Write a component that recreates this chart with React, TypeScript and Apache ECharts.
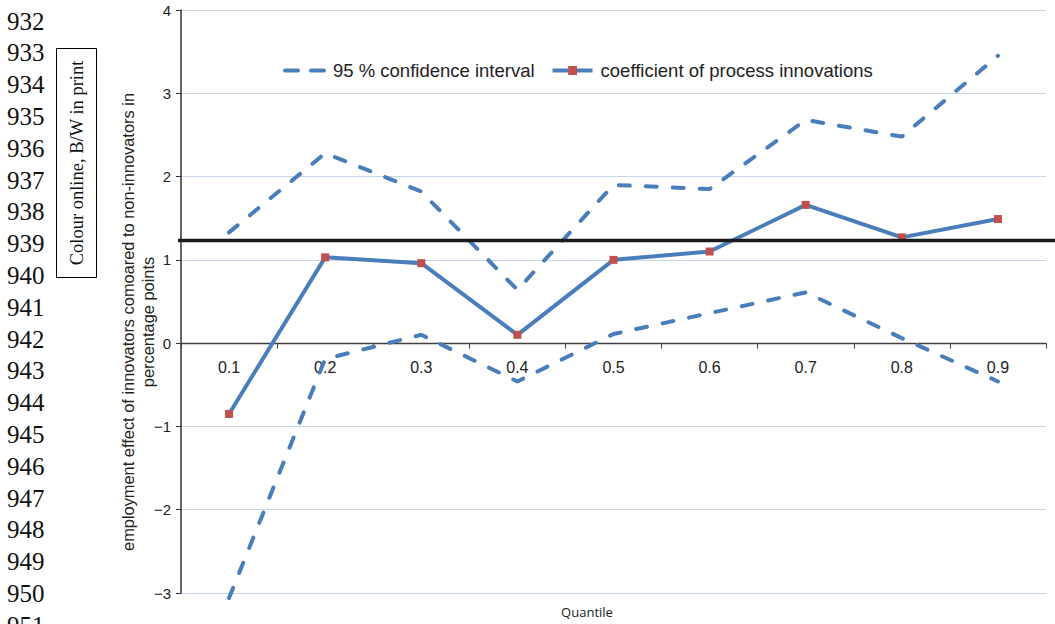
import React, { useEffect, useRef } from "react";
import * as echarts from "echarts";

// ---- data ----
const quantiles = ["0.1", "0.2", "0.3", "0.4", "0.5", "0.6", "0.7", "0.8", "0.9"];
const coefficient = [-0.85, 1.03, 0.96, 0.1, 1.0, 1.1, 1.66, 1.27, 1.49];
const upperCI = [1.33, 2.28, 1.82, 0.64, 1.9, 1.85, 2.68, 2.48, 3.45];
const lowerCI = [-3.06, -0.19, 0.1, -0.46, 0.11, 0.36, 0.61, 0.06, -0.46];
const referenceLevel = 1.228;
const yMin = -3;
const yMax = 4;
const yStep = 1;
const lineNumbers = [
  "932", "933", "934", "935", "936", "937", "938", "939", "940", "941",
  "942", "943", "944", "945", "946", "947", "948", "949", "950", "951",
];
const ciName = "95 % confidence interval";
const coefName = "coefficient of process innovations";
const yTitle = "employment effect of innovators comoared to non-innovators in\npercentage points";
const xTitle = "Quantile";
const sideNote = "Colour online, B/W in print";

const BLUE = "#4a7ebb";
const RED = "#c0504d";
const SANS = '"Liberation Sans", Arial, sans-serif';
const SERIF = '"Liberation Serif", "Times New Roman", serif';

export default function App() {
  const ref = useRef<HTMLDivElement>(null);

  useEffect(() => {
    if (!ref.current) return;
    const chart = echarts.init(ref.current, undefined, { renderer: "svg" });

    const baseGraphic: any[] = [
      ...lineNumbers.map((n, i) => ({
        type: "text",
        x: 7,
        y: 21 + i * 31.8,
        style: {
          text: n,
          fontFamily: SERIF,
          fontSize: 25,
          fill: "#111",
          align: "left",
          verticalAlign: "middle",
        },
      })),
      {
        type: "rect",
        shape: { x: 56.5, y: 48.5, width: 40, height: 229 },
        style: { fill: "none", stroke: "#000", lineWidth: 1 },
      },
      {
        type: "text",
        x: 77,
        y: 163,
        rotation: Math.PI / 2,
        style: {
          text: sideNote,
          fontFamily: SERIF,
          fontSize: 18.5,
          fill: "#111",
          align: "center",
          verticalAlign: "middle",
        },
      },
      {
        type: "text",
        x: 138,
        y: 322,
        rotation: Math.PI / 2,
        style: {
          text: yTitle,
          fontFamily: SANS,
          fontSize: 16.4,
          lineHeight: 20,
          fill: "#222",
          align: "center",
          verticalAlign: "middle",
        },
      },
      {
        type: "text",
        x: 587,
        y: 612,
        style: {
          text: xTitle,
          fontFamily: '"Open Sans", sans-serif',
          fontSize: 13,
          fill: "#222",
          align: "center",
          verticalAlign: "middle",
        },
      },
    ];

    const dashStyle = {
      color: BLUE,
      width: 4,
      type: [11, 16],
      cap: "round",
    };

    const xAxisBase = {
      type: "category",
      data: quantiles,
      boundaryGap: true,
      position: "bottom",
      axisLine: { onZero: false, lineStyle: { color: "#404040", width: 1.3 } },
      axisTick: { show: true, length: 5, lineStyle: { color: "#404040" } },
      axisLabel: { color: "#222", fontSize: 16, fontFamily: SANS, margin: 16 },
      splitLine: { show: false },
    };

    chart.setOption({
      animation: false,
      backgroundColor: "#fff",
      grid: { left: 181, right: 9, top: 10, bottom: 31, containLabel: false },
      legend: {
        left: 278,
        top: 56,
        itemWidth: 40,
        itemHeight: 11,
        itemGap: 16,
        textStyle: {
          fontFamily: SANS,
          fontSize: 18.5,
          color: "#222",
          padding: [0, 0, 0, 3],
        },
        data: [
          {
            name: ciName,
            itemStyle: { opacity: 0 },
            lineStyle: { color: BLUE, width: 4, type: [13, 13], cap: "round" },
          },
          {
            name: coefName,
            itemStyle: { color: RED },
            lineStyle: { color: BLUE, width: 4 },
          },
        ],
      },
      xAxis: xAxisBase,
      yAxis: {
        type: "value",
        min: yMin,
        max: yMax,
        interval: yStep,
        axisLine: { show: true, onZero: false, lineStyle: { color: "#333", width: 1.5 } },
        axisTick: { show: true, length: 5, lineStyle: { color: "#333" } },
        axisLabel: {
          color: "#222",
          fontSize: 15,
          fontFamily: SANS,
          margin: 10,
          formatter: (v: number) => (v < 0 ? "\u2212" + Math.abs(v) : String(v)),
        },
        splitLine: { show: true, lineStyle: { color: "#c8d6ec", width: 1.2 } },
      },
      series: [
        {
          name: ciName,
          type: "line",
          data: upperCI,
          showSymbol: false,
          symbol: "none",
          lineStyle: dashStyle,
          itemStyle: { color: BLUE },
          clip: false,
          z: 2,
        },
        {
          name: ciName,
          type: "line",
          data: lowerCI,
          showSymbol: false,
          symbol: "none",
          lineStyle: dashStyle,
          itemStyle: { color: BLUE },
          clip: false,
          z: 2,
        },
        {
          name: coefName,
          type: "line",
          data: coefficient,
          symbol: "rect",
          symbolSize: 8,
          lineStyle: { color: BLUE, width: 4 },
          itemStyle: { color: RED },
          clip: false,
          z: 3,
        },
      ],
      graphic: baseGraphic,
    });

    const yRef = chart.convertToPixel({ yAxisIndex: 0 }, referenceLevel) as number;
    const yZero = chart.convertToPixel({ yAxisIndex: 0 }, 0) as number;
    const yBottom = chart.convertToPixel({ yAxisIndex: 0 }, yMin) as number;
    chart.setOption({
      xAxis: { ...xAxisBase, offset: yZero - yBottom },
      graphic: [
        ...baseGraphic,
        {
          type: "line",
          z: 10,
          shape: { x1: 178, y1: yRef, x2: 1055, y2: yRef },
          style: { stroke: "#1a1a1a", lineWidth: 3.5 },
        },
      ],
    });

    return () => chart.dispose();
  }, []);

  return (
    <div
      ref={ref}
      style={{ position: "fixed", left: 0, top: 0, width: 1055, height: 624, background: "#fff" }}
    />
  );
}
